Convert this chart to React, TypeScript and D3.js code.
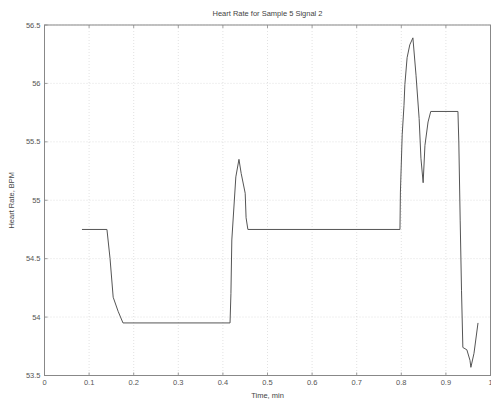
import React from "react";
import * as d3 from "d3";

const times = [0.084, 0.14, 0.147, 0.154, 0.165, 0.176, 0.416, 0.418, 0.42, 0.429, 0.436, 0.441, 0.45, 0.452, 0.456, 0.797, 0.798, 0.802, 0.806, 0.808, 0.813, 0.819, 0.826, 0.833, 0.84, 0.844, 0.849, 0.853, 0.86, 0.866, 0.927, 0.929, 0.932, 0.935, 0.938, 0.947, 0.954, 0.956, 0.963, 0.972];
const heartRate = [54.75, 54.75, 54.5, 54.17, 54.05, 53.95, 53.95, 54.2, 54.66, 55.2, 55.35, 55.23, 55.06, 54.85, 54.75, 54.75, 55.07, 55.56, 55.81, 55.99, 56.22, 56.33, 56.39, 56.07, 55.7, 55.36, 55.15, 55.47, 55.67, 55.76, 55.76, 55.49, 54.83, 54.23, 53.74, 53.72, 53.63, 53.57, 53.69, 53.95];
const xTicks = [0, 0.1, 0.2, 0.3, 0.4, 0.5, 0.6, 0.7, 0.8, 0.9, 1];
const yTicks = [53.5, 54, 54.5, 55, 55.5, 56, 56.5];
const title = "Heart Rate for Sample 5 Signal 2";
const xLabel = "Time, min";
const yLabel = "Heart Rate, BPM";

export default function App() {
  const W = 491, H = 405;
  const left = 44.5, right = 490.5, top = 25, bottom = 375.5;
  const x = d3.scaleLinear().domain([0, 1]).range([left, right]);
  const y = d3.scaleLinear().domain([53.5, 56.5]).range([bottom, top]);
  const pts = times.map((t, i) => [t, heartRate[i]] as [number, number]);
  const line = d3.line<[number, number]>().x(d => x(d[0])).y(d => y(d[1]));
  const font = "'Liberation Sans', Arial, sans-serif";
  return (
    <div style={{ position: "fixed", left: 0, top: 0 }}>
      <svg width={W} height={H} style={{ display: "block", background: "#fff" }}>
        {xTicks.map(t => (
          <g key={"xg" + t}>
            <line x1={x(t)} x2={x(t)} y1={top} y2={bottom} stroke="#cfcfcf" strokeWidth={0.6} strokeDasharray="1,2" />
            <line x1={x(t)} x2={x(t)} y1={bottom} y2={bottom - 3} stroke="#888" strokeWidth={0.8} />
            <line x1={x(t)} x2={x(t)} y1={top} y2={top + 3} stroke="#888" strokeWidth={0.8} />
            <text x={x(t)} y={bottom + 9} fontSize={7.5} fontFamily={font} fill="#555" textAnchor="middle">{String(t)}</text>
          </g>
        ))}
        {yTicks.map(v => (
          <g key={"yg" + v}>
            <line x1={left} x2={right} y1={y(v)} y2={y(v)} stroke="#cfcfcf" strokeWidth={0.6} strokeDasharray="1,2" />
            <line x1={left} x2={left + 3} y1={y(v)} y2={y(v)} stroke="#888" strokeWidth={0.8} />
            <text x={left - 4} y={y(v) + 2.5} fontSize={7.5} fontFamily={font} fill="#555" textAnchor="end">{String(v)}</text>
          </g>
        ))}
        <rect x={left} y={top} width={right - left} height={bottom - top} fill="none" stroke="#888" strokeWidth={1} />
        <path d={line(pts) || ""} fill="none" stroke="#555" strokeWidth={1} />
        <text x={(left + right) / 2} y={16} fontSize={7.5} fontFamily={font} fill="#444" textAnchor="middle">{title}</text>
        <text x={(left + right) / 2} y={398} fontSize={7.5} fontFamily={font} fill="#444" textAnchor="middle">{xLabel}</text>
        <text transform={`translate(14, ${(top + bottom) / 2}) rotate(-90)`} fontSize={7.5} fontFamily={font} fill="#444" textAnchor="middle">{yLabel}</text>
      </svg>
    </div>
  );
}
